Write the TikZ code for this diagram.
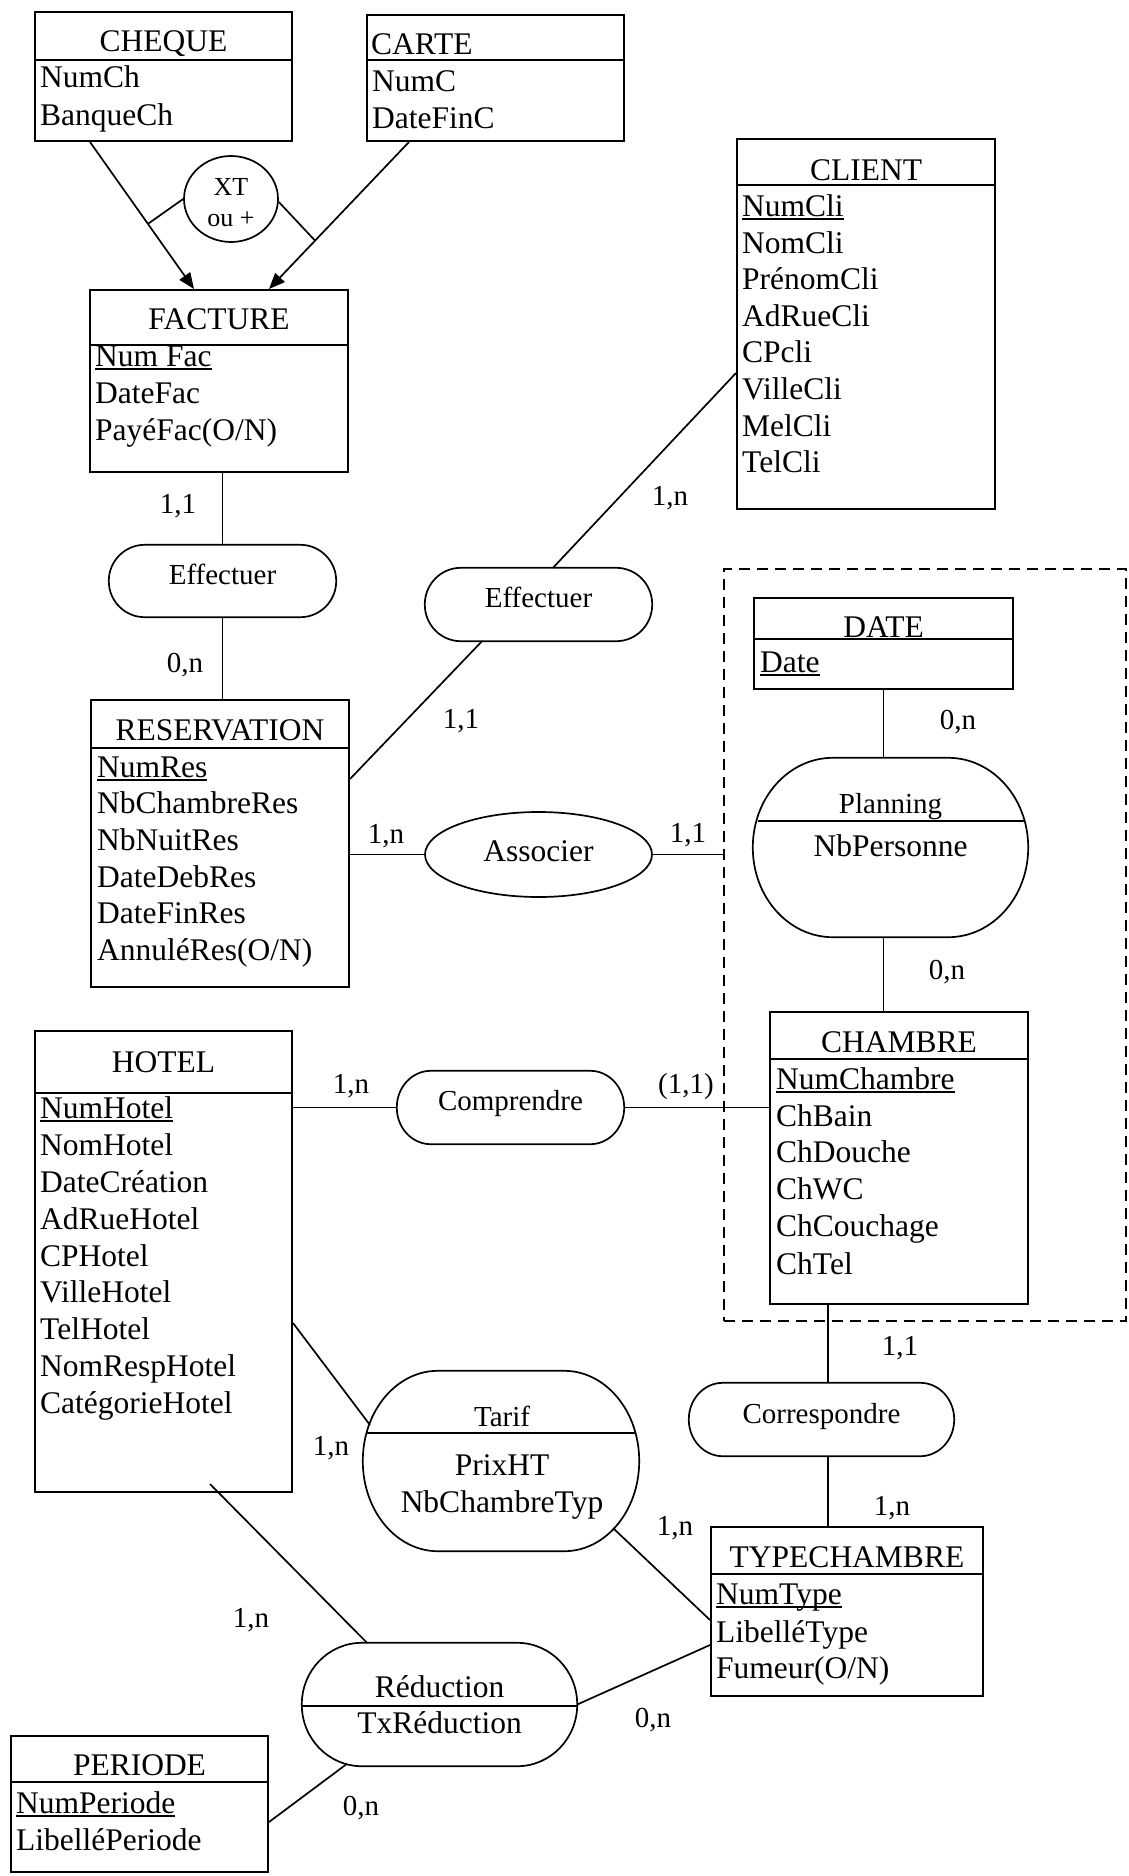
\documentclass[tikz,border=0pt]{standalone}
\usepackage{fontspec}
\setmainfont{Liberation Serif}
\usetikzlibrary{arrows.meta,calc,shapes.geometric}
\newcommand\ulk[1]{\setbox0=\hbox{#1}\rlap{\rule[-4pt]{\wd0}{1.8pt}}\box0}
\newcommand\relout[3]{\draw[conn] ([xshift=#2pt]#1.north west) -- ([xshift=-#2pt]#1.north east) arc[start angle=90,end angle=0,x radius=#2pt,y radius=#3pt] -- ([yshift=#3pt]#1.south east) arc[start angle=0,end angle=-90,x radius=#2pt,y radius=#3pt] -- ([xshift=#2pt]#1.south west) arc[start angle=270,end angle=180,x radius=#2pt,y radius=#3pt] -- ([yshift=-#3pt]#1.north west) arc[start angle=180,end angle=90,x radius=#2pt,y radius=#3pt] -- cycle;}
\tikzset{
 ent/.style={draw, line width=2pt, inner sep=0pt, rectangle},
 conn/.style={line width=1.7pt},
 hdr/.style={line width=2pt},
 ttl/.style={font=\fontsize{31.5}{37}\selectfont, anchor=base, inner sep=0pt},
 att/.style={font=\fontsize{31.5}{37}\selectfont, anchor=base west, inner sep=0pt},
 rlbl/.style={font=\fontsize{29}{34}\selectfont, anchor=base, inner sep=0pt},
 card/.style={font=\fontsize{29}{34}\selectfont, anchor=base, inner sep=0pt},
 xtl/.style={font=\fontsize{26}{30}\selectfont, anchor=base, inner sep=0pt},
 relbox/.style={rectangle, inner sep=0pt, draw=none},
 arr/.style={conn, -{Triangle[length=16pt,width=13pt]}},
}
\begin{document}
\begin{tikzpicture}[x=1pt,y=-1pt]
\path[fill=white, use as bounding box] (0,0) rectangle (1128,1876);

% ---------- CHEQUE
\node[ent, minimum width=257pt, minimum height=129pt] (cheque) at (163.5,76.5) {};
\draw[hdr] ([yshift=-49pt]cheque.north west) -- ([yshift=-49pt]cheque.north east);
\node[ttl] (cheque-t) at (163.5,52) {CHEQUE};
\node[att] (cheque-a1) at (40,88) {NumCh};
\node[att] (cheque-a2) at (40,125) {BanqueCh};

% ---------- CARTE
\node[ent, minimum width=257pt, minimum height=126pt] (carte) at (495.5,78) {};
\draw[hdr] ([yshift=-46pt]carte.north west) -- ([yshift=-46pt]carte.north east);
\node[att] (carte-t) at (371,55) {CARTE};
\node[att] (carte-a1) at (372,92) {NumC};
\node[att] (carte-a2) at (372,128) {DateFinC};

% ---------- XT
\node[draw, ellipse, conn, minimum width=94pt, minimum height=86pt, inner sep=0pt] (xt) at (231,199) {};
\node[xtl] (xt-t1) at (231,195) {XT};
\node[xtl] (xt-t2) at (231,226) {ou +};

% ---------- FACTURE
\node[ent, minimum width=258pt, minimum height=182pt] (facture) at (219,381) {};
\draw[hdr] ([yshift=-56pt]facture.north west) -- ([yshift=-56pt]facture.north east);
\node[ttl] (facture-t) at (219,329) {FACTURE};
\node[att] (facture-a1) at (95,366) {\ulk{Num Fac}};
\node[att] (facture-a2) at (95,403) {DateFac};
\node[att] (facture-a3) at (95,440) {PayéFac(O/N)};

% ---------- CLIENT
\node[ent, minimum width=258pt, minimum height=370pt] (client) at (866,324) {};
\draw[hdr] ([yshift=-47pt]client.north west) -- ([yshift=-47pt]client.north east);
\node[ttl] (client-t) at (866,180) {CLIENT};
\node[att] (client-a1) at (742,216) {\ulk{NumCli}};
\node[att] (client-a2) at (742,253) {NomCli};
\node[att] (client-a3) at (742,289) {PrénomCli};
\node[att] (client-a4) at (742,326) {AdRueCli};
\node[att] (client-a5) at (742,362) {CPcli};
\node[att] (client-a6) at (742,399) {VilleCli};
\node[att] (client-a7) at (742,436) {MelCli};
\node[att] (client-a8) at (742,472) {TelCli};

% ---------- RESERVATION
\node[ent, minimum width=258pt, minimum height=287pt] (reservation) at (220,843.5) {};
\draw[hdr] ([yshift=-49pt]reservation.north west) -- ([yshift=-49pt]reservation.north east);
\node[ttl] (reservation-t) at (220,740) {RESERVATION};
\node[att] (reservation-a1) at (97,777) {\ulk{NumRes}};
\node[att] (reservation-a2) at (97,813) {NbChambreRes};
\node[att] (reservation-a3) at (97,850) {NbNuitRes};
\node[att] (reservation-a4) at (97,887) {DateDebRes};
\node[att] (reservation-a5) at (97,923) {DateFinRes};
\node[att] (reservation-a6) at (97,960) {AnnuléRes(O/N)};

% ---------- group (dashed)
\node[draw, dashed, dash pattern=on 11pt off 7pt, line width=2.2pt, minimum width=402pt, minimum height=752pt, inner sep=0pt] (grp) at (925,945) {};

% ---------- DATE
\node[ent, minimum width=259pt, minimum height=91pt] (date) at (883.5,643.5) {};
\draw[hdr] ([yshift=-42pt]date.north west) -- ([yshift=-42pt]date.north east);
\node[ttl] (date-t) at (883.5,637) {DATE};
\node[att] (date-a1) at (760,672) {\ulk{Date}};

% ---------- CHAMBRE
\node[ent, minimum width=258pt, minimum height=292pt] (chambre) at (899,1158) {};
\draw[hdr] ([yshift=-48pt]chambre.north west) -- ([yshift=-48pt]chambre.north east);
\node[ttl] (chambre-t) at (899,1052) {CHAMBRE};
\node[att] (chambre-a1) at (776,1089) {\ulk{NumChambre}};
\node[att] (chambre-a2) at (776,1126) {ChBain};
\node[att] (chambre-a3) at (776,1162) {ChDouche};
\node[att] (chambre-a4) at (776,1199) {ChWC};
\node[att] (chambre-a5) at (776,1236) {ChCouchage};
\node[att] (chambre-a6) at (776,1274) {ChTel};

% ---------- HOTEL
\node[ent, minimum width=257pt, minimum height=461pt] (hotel) at (163.5,1261.5) {};
\draw[hdr] ([yshift=-63pt]hotel.north west) -- ([yshift=-63pt]hotel.north east);
\node[ttl] (hotel-t) at (163.5,1072) {HOTEL};
\node[att] (hotel-a1) at (40,1118) {\ulk{NumHotel}};
\node[att] (hotel-a2) at (40,1155) {NomHotel};
\node[att] (hotel-a3) at (40,1192) {DateCréation};
\node[att] (hotel-a4) at (40,1229) {AdRueHotel};
\node[att] (hotel-a5) at (40,1266) {CPHotel};
\node[att] (hotel-a6) at (40,1302) {VilleHotel};
\node[att] (hotel-a7) at (40,1339) {TelHotel};
\node[att] (hotel-a8) at (40,1376) {NomRespHotel};
\node[att] (hotel-a9) at (40,1413) {CatégorieHotel};

% ---------- TYPECHAMBRE
\node[ent, minimum width=272pt, minimum height=169pt] (typech) at (847,1611.5) {};
\draw[hdr] ([yshift=-48pt]typech.north west) -- ([yshift=-48pt]typech.north east);
\node[ttl] (typech-t) at (847,1567) {TYPECHAMBRE};
\node[att] (typech-a1) at (716,1604) {\ulk{NumType}};
\node[att] (typech-a2) at (716,1642) {LibelléType};
\node[att] (typech-a3) at (716,1678) {Fumeur(O/N)};

% ---------- PERIODE
\node[ent, minimum width=257pt, minimum height=136pt] (periode) at (139.5,1804) {};
\draw[hdr] ([yshift=-47pt]periode.north west) -- ([yshift=-47pt]periode.north east);
\node[ttl] (periode-t) at (139.5,1775) {PERIODE};
\node[att] (periode-a1) at (16,1813) {\ulk{NumPeriode}};
\node[att] (periode-a2) at (16,1850) {LibelléPeriode};

% ---------- relationships
\node[relbox, minimum width=227pt, minimum height=72pt] (eff1) at (222.5,581) {};
\relout{eff1}{36}{36}
\node[rlbl] (eff1-t) at (222.5,584) {Effectuer};

\node[relbox, minimum width=227pt, minimum height=73pt] (eff2) at (538.5,604.5) {};
\relout{eff2}{36}{36.5}
\node[rlbl] (eff2-t) at (538.5,607) {Effectuer};

\node[draw, ellipse, conn, minimum width=227pt, minimum height=85pt, inner sep=0pt] (assoc) at (538.5,854.5) {};
\node[ttl] (assoc-t) at (538.5,861) {Associer};

\node[relbox, minimum width=227pt, minimum height=73pt] (comp) at (510.5,1107.5) {};
\relout{comp}{34}{36.5}
\node[rlbl] (comp-t) at (510.5,1110) {Comprendre};

\node[relbox, minimum width=265pt, minimum height=73pt] (corr) at (821.5,1419.5) {};
\relout{corr}{34}{36.5}
\node[rlbl] (corr-t) at (821.5,1423) {Correspondre};

\node[relbox, minimum width=275pt, minimum height=179pt] (plan) at (890.5,847.5) {};
\relout{plan}{80}{89.5}
\draw[conn] ([shift={(-133pt,26.5pt)}]plan.center) -- ([shift={(133pt,26.5pt)}]plan.center);
\node[rlbl] (plan-t) at (890.5,813) {Planning};
\node[ttl] (plan-a1) at (890.5,856) {NbPersonne};

\node[relbox, minimum width=276pt, minimum height=180pt] (tarif) at (501,1461) {};
\relout{tarif}{75}{90}
\draw[conn] ([shift={(-134pt,28pt)}]tarif.center) -- ([shift={(134pt,28pt)}]tarif.center);
\node[rlbl] (tarif-t) at (502,1426) {Tarif};
\node[ttl] (tarif-a1) at (502,1475) {PrixHT};
\node[ttl] (tarif-a2) at (502,1512) {NbChambreTyp};

\node[relbox, minimum width=275pt, minimum height=123pt] (red) at (439.5,1704.5) {};
\relout{red}{60}{61.5}
\draw[conn] ([shift={(-137.5pt,-1.5pt)}]red.center) -- ([shift={(137.5pt,-1.5pt)}]red.center);
\node[ttl] (red-t) at (439.5,1697) {Réduction};
\node[ttl] (red-a1) at (439.5,1733) {TxRéduction};

% ---------- connectors
\coordinate (chqA) at ([xshift=-73.5pt]cheque.south);
\coordinate (chqB) at ([xshift=-25pt]facture.north);
\coordinate (crtA) at ([xshift=-86.5pt]carte.south);
\coordinate (crtB) at ([xshift=50pt]facture.north);
\draw[arr] (chqA) -- (chqB);
\draw[arr] (crtA) -- (crtB);
\draw[conn] (xt.west) -- ($(chqA)!0.557!(chqB)$);
\draw[conn] ([yshift=-3pt]xt.east) -- ($(crtA)!0.671!(crtB)$);

\draw[conn] (eff1.north |- facture.south) -- (eff1.north);
\draw[conn] (eff1.south) -- (eff1.south |- reservation.north);
\draw[conn] ([xshift=14.5pt]eff2.north) -- ([yshift=-49pt]client.west);
\draw[conn] ([xshift=-56.5pt]eff2.south) -- ([yshift=64.5pt]reservation.east);
\draw[conn] (reservation.east |- assoc.west) -- (assoc.west);
\draw[conn] (assoc.east) -- (assoc.east -| grp.west);
\draw[conn] (date.south) -- (date.south |- plan.north);
\draw[conn] (date.south |- plan.south) -- (date.south |- chambre.north);
\draw[conn] (hotel.east |- comp.west) -- (comp.west);
\draw[conn] (comp.east) -- (comp.east -| chambre.west);
\draw[conn] ([yshift=-61.5pt]hotel.east) -- ([shift={(-131pt,36pt)}]tarif.center);
\draw[conn] ([shift={(112pt,-67pt)}]tarif.center) -- ([yshift=-8.5pt]typech.west);
\coordinate (chb) at ([xshift=-71pt]chambre.south);
\coordinate (tyn) at ([xshift=-19pt]typech.north);
\draw[conn] (chb) -- (chb |- corr.north);
\draw[conn] (tyn |- corr.south) -- (tyn);
\draw[conn] ([shift={(46.5pt,9pt)}]hotel.south) -- ([xshift=-72.5pt]red.north);
\draw[conn] (red.east) -- ([yshift=-33.5pt]typech.west);
\draw[conn] ([shift={(-92.5pt,-59.3pt)}]red.center) -- ([yshift=-18pt]periode.east);

% ---------- cardinalities
\node[card] (card1) at (178,513) {1,1};
\node[card] (card2) at (185,672) {0,n};
\node[card] (card3) at (461,728) {1,1};
\node[card] (card4) at (670,505) {1,n};
\node[card] (card5) at (386,843) {1,n};
\node[card] (card6) at (688,842) {1,1};
\node[card] (card7) at (958,729) {0,n};
\node[card] (card8) at (947,979) {0,n};
\node[card] (card9) at (351,1093) {1,n};
\node[card] (card10) at (686,1093) {(1,1)};
\node[card] (card11) at (331,1455) {1,n};
\node[card] (card12) at (675,1535) {1,n};
\node[card] (card13) at (900,1355) {1,1};
\node[card] (card14) at (892,1515) {1,n};
\node[card] (card15) at (251,1627) {1,n};
\node[card] (card16) at (653,1727) {0,n};
\node[card] (card17) at (361,1815) {0,n};
\end{tikzpicture}
\end{document}
